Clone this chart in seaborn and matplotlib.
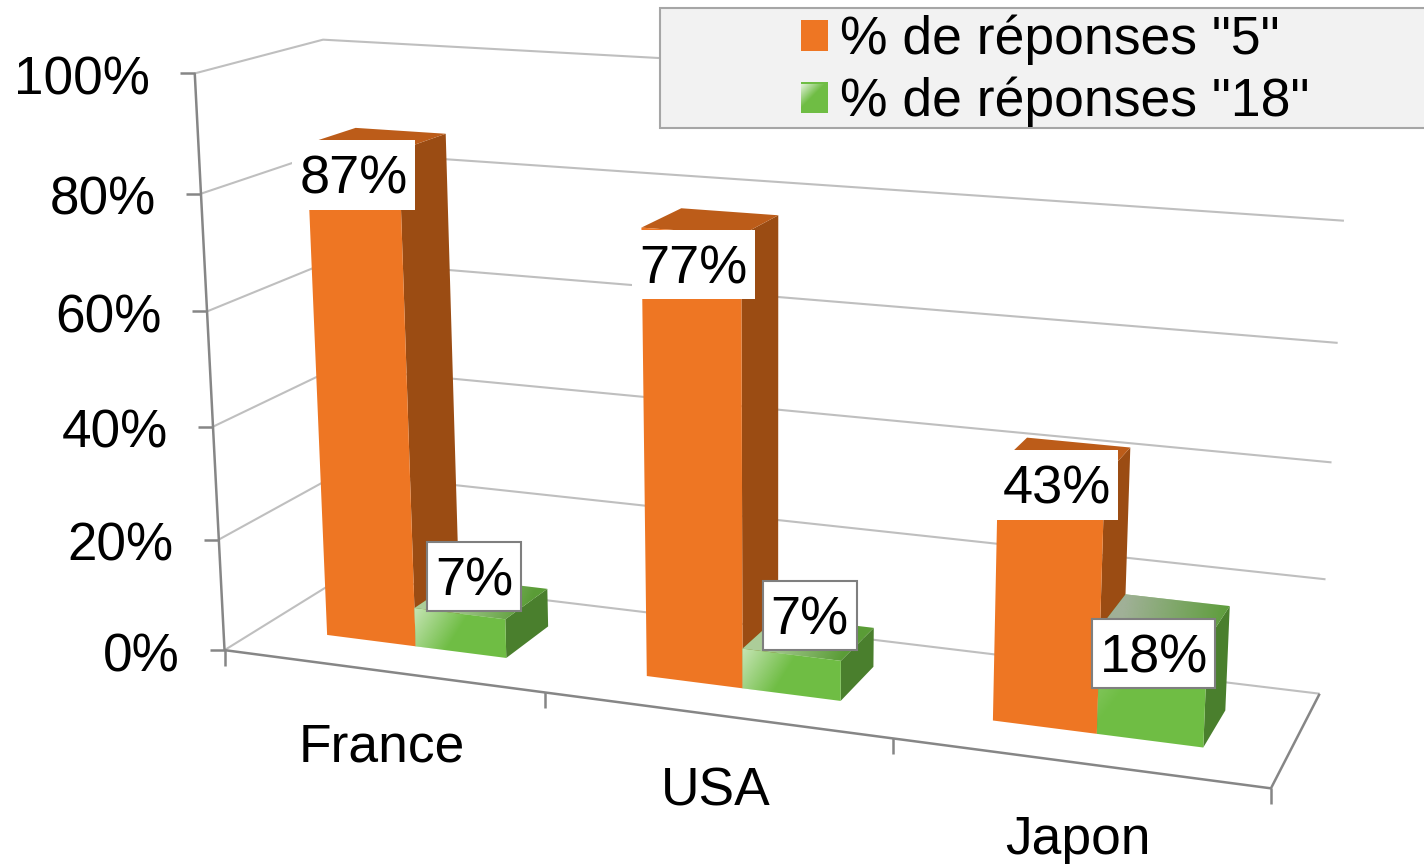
# -*- coding: utf-8 -*-
import numpy as np
import pandas as pd
import matplotlib
matplotlib.use("Agg")
import matplotlib.pyplot as plt
import seaborn as sns
from matplotlib.patches import Patch, Polygon, Rectangle
from matplotlib.transforms import Affine2D, Transform

# Donnees
pays = ['France', 'USA', 'Japon']
series = ['% de réponses "5"', '% de réponses "18"']
reponses_5 = [87, 77, 43]
reponses_18 = [7, 7, 18]
graduations = [0, 20, 40, 60, 80, 100]

L, H = 1424, 864
ORANGE, ORANGE_COTE, ORANGE_HAUT = '#EE7623', '#9B4C13', '#BC5C19'
VERT, VERT_COTE, VERT_HAUT = '#6FBD44', '#4A7F2D', '#5A9C36'
GRILLE, AXE = '#BFBFBF', '#868686'

sns.set_theme(style='white')
plt.rcParams['font.family'] = ['Liberation Sans', 'DejaVu Sans']

# Camera : (categorie, profondeur, valeur) -> pixels de l'image, calee sur les coins du repere
reperes = [
    (0, 0, 0, 225, 650), (1, 0, 0, 545, 692), (2, 0, 0, 892, 740), (3, 0, 0, 1271, 788),
    (3, 1, 0, 1320, 694), (0, 1, 0, 345, 576), (0, 0, 100, 194, 73), (0, 0, 80, 203, 193),
    (0, 0, 20, 218, 540), (0, 1, 100, 322, 40), (3, 1, 100, 1350, 98), (3, 1, 80, 1345, 219),
    (3, 1, 20, 1325, 578),
]
lignes = []
for cx, cd, cv, px, py in reperes:
    m = [cx, cd, cv / 100, 1]
    lignes.append(m + [0, 0, 0, 0] + [-px * c for c in m])
    lignes.append([0, 0, 0, 0] + m + [-py * c for c in m])
camera = np.linalg.svd(np.array(lignes, float))[2][-1].reshape(3, 4)


def projette(x, d, v):
    x, d, v = np.broadcast_arrays(x, d, v)
    q = camera @ np.vstack([x, d, v / 100, np.ones(x.shape)])
    return np.column_stack([q[0] / q[2], q[1] / q[2]])


D0, D1 = 0.30, 0.70
DX = 0.497  # centre des categories sur l'axe du repere
pix = Affine2D().scale(1, -1).translate(0, H)


class PlanBarres(Transform):
    # plan avant des barres : coordonnees seaborn (categorie, valeur) -> ecran
    input_dims = output_dims = 2
    is_separable = False
    has_inverse = False

    def transform_non_affine(self, values):
        values = np.asarray(values, float)
        return pix.transform(projette(values[:, 0] + DX, D0, values[:, 1]))


df = pd.DataFrame({
    'pays': pays * 2,
    'serie': [series[0]] * 3 + [series[1]] * 3,
    'pct': reponses_5 + reponses_18,
})

fig = plt.figure(figsize=(L / 100, H / 100), dpi=100)
ax = fig.add_axes([0, 0, 1, 1])
sns.barplot(data=df, x='pays', y='pct', hue='serie', palette=[ORANGE, VERT],
            width=0.57, gap=0, saturation=1, linewidth=0, legend=False, ax=ax)
ax.set_xlim(-0.5, 2.5)
ax.set_ylim(0, 100)
ax.set_autoscale_on(False)
ax.set_axis_off()


def trait(points, couleur, lw, z=1):
    points = np.asarray(points)
    ax.plot(points[:, 0], points[:, 1], color=couleur, lw=lw, transform=pix,
            solid_capstyle='butt', clip_on=False, zorder=z)


def degrade(poly, depart, arrivee, couleur, amax, z):
    xmin, ymin = np.floor(poly.min(axis=0))
    xmax, ymax = np.ceil(poly.max(axis=0))
    X, Y = np.meshgrid(np.arange(xmin, xmax + 1), np.arange(ymin, ymax + 1))
    ux, uy = arrivee[0] - depart[0], arrivee[1] - depart[1]
    u = ((X - depart[0]) * ux + (Y - depart[1]) * uy) / (ux ** 2 + uy ** 2)
    rgba = np.zeros(X.shape + (4,))
    rgba[..., :3] = matplotlib.colors.to_rgb(couleur)
    rgba[..., 3] = amax * np.clip(1 - u, 0, 1)
    im = ax.imshow(rgba, extent=(xmin, xmax, ymax, ymin), transform=pix, aspect='auto',
                   interpolation='bilinear', zorder=z)
    im.set_clip_path(Polygon(poly, transform=pix))


# Grille et axes
for v in graduations:
    trait(projette([0, 0, 3], [0, 1, 1], [v, v, v]), GRILLE, 1.5)
    p = projette(0, 0, v)[0]
    trait([p - [15, 0], p], AXE, 1.8)
    ax.text(p[0] - 45, p[1] + 7, f'{v}%', transform=pix, ha='right', va='center', fontsize=38.2, color='black')
trait(projette([0, 0], [0, 0], [0, 100]), AXE, 1.8)
trait(projette([0, 3, 3], [0, 0, 1], [0, 0, 0]), AXE, 1.8, z=2)
for i in range(4):
    p = projette(i, 0, 0)[0]
    trait([p, p + [0, 16]], AXE, 1.8, z=2)
for i, nom in enumerate(pays):
    p = projette(i + 0.5, 0, 0)[0]
    ax.text(p[0] + 0.5, p[1] + 77, nom, transform=pix, ha='center', va='center', fontsize=38.4, color='black')

# Barres : faces avant seaborn, cotes et dessus projetes depuis les memes rectangles
plan = PlanBarres()
couleurs = [(ORANGE_COTE, ORANGE_HAUT), (VERT_COTE, VERT_HAUT)]
for s, conteneur in enumerate(ax.containers):
    for i, rect in enumerate(conteneur):
        z = 3 + i + s * 0.1
        rect.set_transform(plan)
        rect.set_clip_on(False)
        rect.set_zorder(z + 0.02)
        xg = rect.get_x() + DX
        xd = xg + rect.get_width()
        v = rect.get_height()
        cote = projette([xd, xd, xd, xd], [D0, D1, D1, D0], [0, 0, v, v])
        haut = projette([xg, xd, xd, xg], [D0, D0, D1, D1], [v, v, v, v])
        ax.add_patch(Polygon(cote, closed=True, fc=couleurs[s][0], ec='none', transform=pix, zorder=z, clip_on=False))
        ax.add_patch(Polygon(haut, closed=True, fc=couleurs[s][1], ec='none', transform=pix, zorder=z + 0.01, clip_on=False))
        if s == 1:
            avant = projette([xg, xd, xd, xg], [D0, D0, D0, D0], [0, 0, v, v])
            coin = avant[3]
            if i < 2:
                degrade(avant, coin, coin + [42, 26], 'white', 0.6, z + 0.03)
                degrade(haut, haut[3], haut[3] + [70, 30], 'white', 0.5, z + 0.015)
            else:
                degrade(avant, coin, coin + [45, 35], 'white', 0.3, z + 0.03)
                degrade(haut, haut[3], haut[3] + [110, 15], '#B8B8B8', 0.75, z + 0.015)

# Etiquettes de valeurs
centres = [(353.5, 175), (693, 264.5), (1057, 485), (474, 576.5), (809.5, 615.5), (1153.5, 653.5)]
tailles = [(123, 70), (123, 69), (122, 70), (94, 69), (94, 69), (123, 69)]
for (cx, cy), (lb, hb), val, k in zip(centres, tailles, reponses_5 + reponses_18, range(6)):
    bord = 'none' if k < 3 else '#7F7F7F'
    ax.add_patch(Rectangle((cx - lb / 2, cy - hb / 2), lb, hb, fc='white', ec=bord, lw=1.5, transform=pix, zorder=8))
    ax.text(cx, cy + 5, f'{val}%', transform=pix, ha='center', va='center', fontsize=39, color='black', zorder=9)

# Legende
ax.add_patch(Rectangle((660, 8), 770, 120, fc='#F2F2F2', ec='#A6A6A6', lw=1.5, transform=pix, zorder=10))
poignees = [Patch(fc=ORANGE, ec='none'), Patch(fc=VERT, ec='none')]
leg = ax.legend(poignees, series, loc='center left', bbox_to_anchor=(801, 71), bbox_transform=pix,
                frameon=False, fontsize=38.5, handlelength=0.51, handleheight=0.51, handletextpad=0.22,
                labelspacing=0.21, borderpad=0, borderaxespad=0, labelcolor='black')
leg.set_zorder(11)
case = np.array([[801, 84], [829, 84], [829, 112], [801, 112]], float)
degrade(case, case[0], case[0] + [12, 12], 'white', 0.8, 12)
ax.set_xlim(-0.5, 2.5)
ax.set_ylim(0, 100)

fig.savefig('out.png', dpi=100)
